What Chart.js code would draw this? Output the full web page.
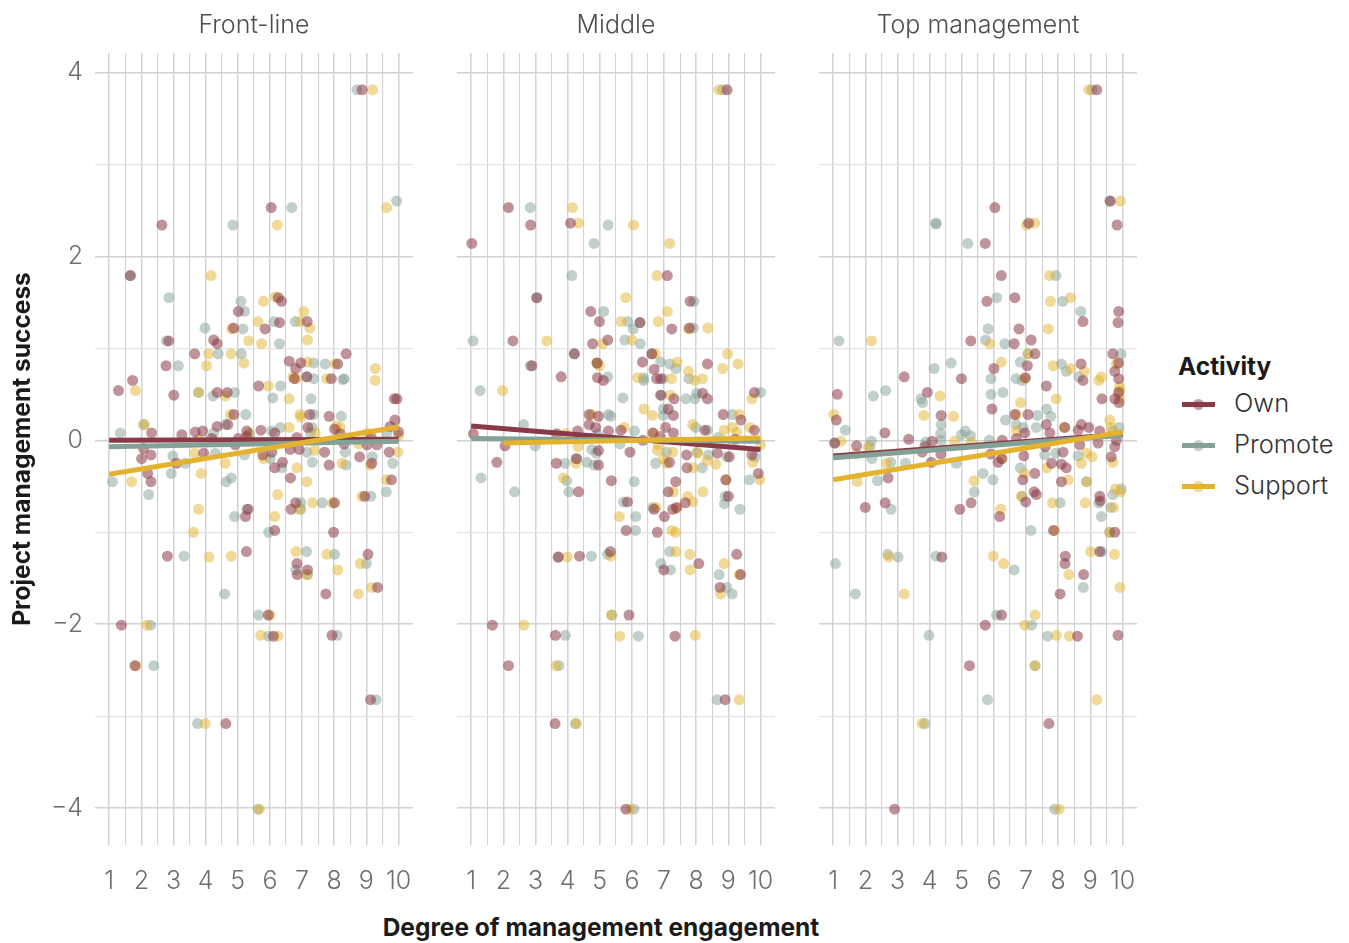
<!DOCTYPE html>
<html>
<head>
<meta charset="utf-8">
<title>Management engagement and project success</title>
<script src="https://cdn.jsdelivr.net/npm/chart.js@4"></script>
<style>
    html, body { margin: 0; padding: 0; background: #fff; }
    body { width: 1349px; height: 943px; position: relative; overflow: hidden; font-family: Inter, sans-serif; }
    canvas { position: absolute; top: 0; }
    .x-title { position: absolute; left: 301px; width: 600px; top: 912px; text-align: center; font-weight: 700; font-size: 24.5px; line-height: 30px; color: #1a1a1a; }
    .legend-title { position: absolute; left: 1178px; top: 350px; font-weight: 700; font-size: 24.5px; line-height: 32px; color: #1a1a1a; }
    .legend-item { position: absolute; left: 1182px; height: 32px; width: 167px; }
    .legend-item .bar { position: absolute; left: 0; top: 14px; width: 33px; height: 5px; }
    .legend-item .dot { position: absolute; left: 11px; top: 11px; width: 11px; height: 11px; border-radius: 50%; opacity: .5; }
    .legend-item span { position: absolute; left: 52px; top: -1px; font-weight: 300; font-size: 25.5px; line-height: 32px; color: #333; }
</style>
</head>
<body>
<canvas id="panelFront" width="425" height="900" style="left:0;width:425px;height:900px"></canvas>
<canvas id="panelMiddle" width="350" height="900" style="left:437px;width:350px;height:900px"></canvas>
<canvas id="panelTop" width="350" height="900" style="left:799px;width:350px;height:900px"></canvas>
<div class="x-title">Degree of management engagement</div>
<div class="legend-title">Activity</div>
<div id="legend"></div>
<script>
const panelTitles = ["Front-line", "Middle", "Top management"];
const activities = ["Own", "Promote", "Support"];
const activityColors = ["#8a3a45", "#84a198", "#e3b330"];

// each pair is [engagement, success]
const frontOwn = [[8.87,3.81],[6.04,2.53],[2.64,2.34],[1.66,1.79],[6.30,1.28],[5.02,1.40],[6.36,1.51],[6.26,1.55],[5.85,1.21],[7.16,1.29],[4.87,1.22],[4.25,1.09],[4.36,1.05],[2.85,1.08],[3.66,0.94],[2.77,0.81],[8.37,0.94],[6.60,0.86],[6.96,0.84],[8.11,0.83],[6.80,0.78],[7.15,0.69],[6.76,0.67],[7.91,0.67],[1.73,0.65],[1.29,0.54],[5.65,0.59],[3.01,0.49],[4.36,0.52],[4.67,0.52],[9.87,0.45],[9.95,0.45],[4.88,0.28],[7.24,0.28],[7.84,0.26],[9.89,0.22],[7.18,0.14],[8.01,0.12],[4.36,0.15],[4.69,0.17],[2.32,0.08],[3.26,0.06],[3.68,0.09],[3.91,0.10],[5.72,0.11],[5.28,0.10],[6.15,0.08],[4.19,0.02],[5.02,0.02],[6.84,0.03],[8.19,0.07],[9.15,0.03],[10.0,0.09],[9.74,0.15],
    [2.07,-0.09],[2.01,-0.20],[2.30,-0.16],[3.09,-0.25],[2.20,-0.36],[2.30,-0.45],[3.94,-0.14],[4.92,-0.05],[5.28,0.04],[5.78,-0.16],[6.06,-0.13],[6.15,-0.30],[6.39,-0.24],[6.63,-0.10],[6.91,-0.10],[6.64,-0.41],[7.70,-0.13],[7.84,-0.27],[8.31,-0.04],[8.79,-0.18],[9.02,-0.05],[9.33,-0.05],[9.17,-0.25],[9.71,-0.13],[9.78,-0.43],[8.95,-0.61],[6.80,-0.68],[6.66,-0.75],[8.01,-0.68],[5.32,-0.75],[5.24,-0.83],[6.15,-0.98],[7.98,-1.00],[2.81,-1.26],[5.27,-1.21],[6.84,-1.34],[7.17,-1.41],[6.85,-1.46],[9.05,-1.24],[9.35,-1.60],[7.74,-1.67],[1.38,-2.01],[5.95,-1.90],[6.11,-2.13],[7.93,-2.12],[1.80,-2.45],[9.13,-2.82],[4.63,-3.08]];
const frontPromote = [[8.71,3.81],[6.68,2.53],[4.85,2.34],[9.94,2.60],[1.66,1.79],[2.86,1.55],[5.10,1.51],[5.21,1.40],[6.13,1.29],[6.79,1.29],[3.98,1.22],[5.16,1.21],[2.78,1.08],[6.30,1.05],[4.39,0.94],[5.11,0.94],[3.15,0.81],[7.36,0.84],[7.72,0.83],[7.15,0.69],[7.36,0.67],[8.31,0.67],[8.27,0.66],[6.33,0.59],[3.78,0.52],[4.23,0.48],[4.90,0.52],[6.09,0.46],[7.28,0.45],[5.25,0.28],[7.36,0.28],[8.22,0.26],[2.07,0.17],[1.35,0.08],[4.61,0.17],[4.25,0.08],[5.37,0.07],[6.06,0.10],[6.33,0.14],[7.31,0.14],[7.26,0.08],[9.64,0.08],
    [2.98,-0.17],[3.37,-0.25],[2.93,-0.36],[1.10,-0.45],[2.23,-0.59],[4.30,-0.14],[4.80,-0.41],[4.64,-0.45],[5.21,-0.16],[6.01,-0.20],[6.37,-0.30],[7.15,-0.13],[7.32,-0.24],[8.34,-0.13],[8.36,-0.27],[9.19,-0.18],[9.82,-0.25],[9.14,-0.61],[9.62,-0.56],[7.63,-0.68],[6.96,-0.68],[6.96,-0.75],[5.28,-0.75],[4.90,-0.83],[5.96,-1.00],[3.33,-1.26],[7.14,-1.21],[8.01,-1.24],[9.0,-1.34],[6.81,-1.41],[7.17,-1.46],[4.59,-1.67],[2.29,-2.01],[5.65,-1.90],[5.96,-2.13],[8.09,-2.12],[2.39,-2.45],[9.30,-2.82],[3.75,-3.08],[5.63,-4.01]];
const frontSupport = [[9.19,3.81],[9.63,2.53],[6.23,2.34],[4.17,1.79],[5.80,1.51],[6.17,1.56],[7.05,1.40],[5.63,1.29],[6.94,1.29],[7.24,1.22],[4.81,1.21],[5.34,1.08],[5.74,1.05],[7.17,1.09],[4.09,0.94],[4.79,0.94],[4.03,0.81],[5.19,0.84],[7.17,0.85],[8.03,0.83],[9.28,0.78],[9.27,0.65],[6.72,0.69],[6.82,0.67],[7.77,0.67],[1.82,0.54],[5.95,0.59],[3.78,0.52],[4.61,0.48],[6.60,0.45],[4.77,0.28],[6.94,0.28],[6.96,0.25],[2.10,0.17],[6.60,0.14],[8.06,0.15],[8.19,0.14],[5.34,0.07],[3.78,0.01],[7.41,0.08],[9.02,0.08],[10.0,0.05],
    [1.70,-0.45],[3.66,-0.14],[3.86,-0.36],[4.61,-0.25],[5.80,-0.20],[6.84,-0.30],[7.38,-0.11],[7.15,-0.45],[6.24,-0.59],[8.24,-0.25],[9.12,-0.27],[8.76,-0.04],[9.98,-0.13],[9.62,-0.43],[8.86,-0.61],[7.33,-0.68],[7.95,-0.68],[6.92,-0.75],[3.78,-0.75],[6.15,-0.83],[3.62,-1.00],[4.11,-1.27],[4.80,-1.26],[6.81,-1.21],[7.77,-1.24],[8.81,-1.34],[8.11,-1.41],[7.15,-1.46],[9.17,-1.60],[8.75,-1.67],[2.17,-2.01],[6.0,-1.90],[5.71,-2.12],[6.25,-2.13],[1.84,-2.45],[3.99,-3.08],[5.67,-4.01]];

const middleOwn = [[8.96,3.81],[2.16,2.53],[2.85,2.34],[4.09,2.36],[1.02,2.14],[7.10,1.79],[3.04,1.55],[4.72,1.40],[7.81,1.51],[4.99,1.29],[6.25,1.28],[7.24,1.21],[7.79,1.22],[2.30,1.08],[4.78,1.05],[5.25,1.09],[4.21,0.94],[6.62,0.94],[4.92,0.84],[6.33,0.85],[8.35,0.83],[2.89,0.81],[6.69,0.77],[6.77,0.67],[6.90,0.67],[3.80,0.69],[4.93,0.68],[5.11,0.65],[6.91,0.49],[7.31,0.45],[8.20,0.51],[8.35,0.45],[9.81,0.52],[4.67,0.28],[4.96,0.26],[4.67,0.17],[4.87,0.14],[7.13,0.34],[7.29,0.27],[8.84,0.28],[9.39,0.22],[7.05,0.14],[1.07,0.07],[3.66,0.07],[4.31,0.10],[5.27,0.10],[5.66,0.11],[6.65,0.08],[6.88,0.04],[7.29,0.08],[8.27,0.11],[9.21,0.01],[9.81,0.11],[6.34,0.0],
    [2.05,-0.06],[1.80,-0.24],[3.65,-0.25],[4.28,-0.20],[4.96,-0.27],[4.96,-0.11],[5.94,-0.13],[5.36,-0.44],[4.34,-0.56],[5.86,-0.67],[7.17,-0.24],[7.70,-0.16],[7.71,-0.30],[8.66,-0.14],[9.03,-0.18],[9.73,-0.16],[9.93,-0.36],[7.36,-0.45],[7.13,-0.56],[8.92,-0.43],[6.69,-0.75],[7.27,-0.75],[7.39,-0.73],[7.66,-0.68],[7.01,-0.83],[9.0,-0.61],[5.82,-0.98],[6.79,-1.00],[5.33,-1.21],[3.71,-1.27],[4.37,-1.26],[8.08,-1.34],[6.99,-1.41],[9.26,-1.24],[9.38,-1.46],[8.74,-1.60],[5.91,-1.90],[1.66,-2.01],[3.62,-2.12],[7.34,-2.13],[2.16,-2.45],[8.90,-2.82],[3.61,-3.08],[5.81,-4.01]];
const middlePromote = [[8.82,3.81],[2.84,2.53],[5.26,2.34],[4.82,2.14],[4.13,1.79],[3.04,1.55],[7.93,1.51],[5.12,1.40],[5.87,1.29],[6.25,1.28],[6.04,1.21],[7.91,1.22],[1.06,1.08],[5.78,1.09],[6.26,1.05],[4.21,0.94],[6.62,0.94],[2.84,0.81],[4.91,0.84],[6.89,0.85],[7.18,0.83],[7.37,0.78],[6.36,0.68],[6.37,0.65],[5.25,0.69],[6.98,0.67],[7.77,0.67],[1.28,0.54],[5.72,0.46],[6.88,0.49],[7.68,0.45],[7.96,0.45],[8.01,0.51],[10.0,0.52],[2.63,0.17],[5.27,0.28],[5.34,0.26],[6.98,0.34],[6.98,0.27],[9.13,0.28],[6.08,0.10],[7.98,0.14],[8.35,0.11],[8.69,0.03],[4.93,0.07],
    [2.99,-0.06],[3.92,-0.25],[4.26,-0.20],[4.60,-0.24],[4.75,-0.10],[4.89,-0.14],[4.82,-0.27],[5.63,-0.04],[1.31,-0.41],[2.35,-0.56],[3.97,-0.44],[4.04,-0.56],[6.07,-0.45],[6.74,-0.25],[7.08,-0.13],[8.19,-0.30],[8.02,-0.13],[8.38,-0.16],[8.95,-0.18],[9.83,-0.18],[9.65,-0.43],[5.74,-0.67],[6.65,-0.73],[8.90,-0.61],[8.88,-0.69],[9.36,-0.75],[6.12,-0.83],[6.11,-0.98],[3.71,-1.27],[4.74,-1.26],[5.24,-1.24],[7.18,-1.21],[6.90,-1.34],[7.20,-1.41],[8.71,-1.46],[8.95,-1.60],[9.12,-1.67],[5.38,-1.90],[3.93,-2.12],[6.20,-2.13],[3.73,-2.45],[8.65,-2.82],[4.24,-3.08],[6.06,-4.01]];
const middleSupport = [[8.70,3.81],[4.15,2.53],[4.34,2.36],[6.05,2.34],[7.17,2.14],[6.78,1.79],[5.81,1.55],[7.10,1.40],[5.66,1.29],[6.82,1.29],[7.76,1.21],[8.36,1.22],[3.35,1.08],[5.09,1.05],[6.0,1.09],[6.73,0.94],[8.98,0.94],[4.91,0.84],[4.99,0.81],[7.41,0.85],[9.30,0.83],[8.82,0.78],[7.76,0.75],[7.96,0.65],[8.19,0.67],[6.18,0.68],[7.23,0.67],[1.98,0.54],[7.19,0.49],[9.73,0.45],[6.38,0.34],[6.64,0.27],[4.75,0.28],[9.34,0.28],[7.89,0.17],[9.13,0.14],[8.87,0.11],[9.26,0.09],[9.67,0.14],[5.76,0.14],[3.94,0.07],[6.67,0.08],
    [4.33,-0.07],[4.26,-0.25],[3.87,-0.41],[6.82,-0.05],[6.79,-0.11],[7.27,-0.13],[6.98,-0.20],[7.08,-0.25],[7.91,-0.30],[8.05,-0.14],[8.33,-0.22],[8.61,-0.26],[9.76,-0.24],[9.98,-0.43],[10.0,-0.05],[7.29,-0.56],[7.74,-0.61],[7.89,-0.67],[8.21,-0.56],[8.93,-0.43],[6.75,-0.73],[7.39,-0.74],[5.61,-0.83],[7.24,-0.98],[7.36,-1.00],[3.99,-1.27],[5.35,-1.26],[7.37,-1.21],[7.80,-1.24],[8.87,-1.34],[7.81,-1.41],[9.34,-1.46],[8.76,-1.67],[2.64,-2.01],[5.36,-1.90],[5.62,-2.13],[7.97,-2.12],[3.64,-2.45],[4.28,-3.08],[9.34,-2.82],[5.95,-4.01]];

const topOwn = [[9.20,3.81],[9.62,2.60],[6.03,2.53],[7.08,2.36],[9.83,2.34],[5.73,2.14],[6.23,1.79],[6.65,1.55],[5.78,1.51],[9.88,1.40],[8.77,1.29],[9.86,1.28],[6.78,1.21],[5.28,1.08],[7.16,1.09],[6.63,1.05],[7.28,0.94],[9.70,0.94],[7.04,0.81],[6.0,0.78],[8.71,0.83],[9.88,0.84],[9.76,0.75],[3.21,0.69],[4.99,0.67],[6.98,0.68],[8.77,0.65],[9.88,0.67],[7.63,0.59],[1.13,0.50],[3.93,0.52],[9.36,0.45],[9.76,0.45],[9.89,0.41],[9.88,0.52],[4.36,0.27],[5.94,0.34],[6.65,0.28],[7.06,0.28],[1.10,0.22],[7.63,0.17],[8.20,0.14],[8.72,0.17],[8.95,0.14],[2.61,0.08],[3.35,0.01],[7.74,0.08],[8.62,0.11],[9.29,0.10],[6.96,0.08],
    [1.05,-0.03],[1.73,-0.06],[4.08,-0.01],[3.85,-0.07],[3.77,-0.13],[4.35,-0.15],[4.05,-0.24],[6.26,0.0],[6.70,0.02],[5.90,-0.15],[6.13,-0.24],[6.25,-0.20],[6.93,-0.17],[7.27,-0.36],[6.90,-0.43],[7.60,-0.07],[8.15,-0.13],[7.79,-0.25],[8.10,-0.26],[8.25,-0.30],[8.10,-0.45],[8.67,-0.05],[9.24,-0.03],[9.65,-0.18],[9.76,-0.07],[9.81,0.0],[2.71,-0.41],[7.25,-0.56],[7.32,-0.59],[6.99,-0.67],[9.29,-0.61],[9.31,-0.66],[2.62,-0.68],[2.0,-0.73],[4.94,-0.75],[5.29,-0.68],[6.18,-0.83],[7.85,-0.98],[9.76,-1.00],[4.38,-1.27],[8.22,-1.26],[8.21,-1.34],[8.79,-1.46],[9.29,-1.21],[8.06,-1.67],[6.24,-1.90],[5.73,-2.01],[8.60,-2.13],[9.86,-2.12],[5.24,-2.45],[7.71,-3.08],[2.91,-4.01]];
const topPromote = [[9.05,3.81],[9.60,2.60],[4.20,2.35],[4.20,2.36],[5.19,2.14],[7.93,1.79],[6.09,1.55],[8.14,1.51],[8.70,1.40],[5.82,1.21],[5.74,1.09],[6.34,1.05],[1.18,1.08],[9.96,0.94],[7.06,0.94],[4.14,0.78],[4.67,0.84],[6.82,0.85],[8.10,0.83],[8.25,0.75],[8.64,0.69],[5.91,0.67],[6.69,0.67],[6.88,0.65],[2.63,0.54],[2.25,0.48],[3.73,0.45],[3.78,0.41],[5.91,0.50],[6.28,0.52],[6.36,0.22],[4.36,0.17],[4.34,0.07],[4.35,0.0],[4.99,0.06],[5.11,0.10],[5.27,0.05],[1.38,0.11],[6.69,0.17],[6.91,0.14],[7.35,0.27],[7.64,0.34],[7.77,0.26],[7.32,0.14],[9.89,0.14],[9.70,0.10],[3.88,-0.02],[5.86,0.0],[2.19,-0.01],[1.05,-0.03],
    [2.21,-0.20],[2.14,-0.07],[2.79,-0.24],[3.25,-0.25],[4.83,-0.25],[5.66,-0.36],[5.97,-0.43],[5.39,-0.56],[2.38,-0.44],[6.82,-0.30],[7.58,-0.16],[7.92,-0.14],[8.62,-0.17],[8.88,-0.45],[9.70,-0.59],[9.96,-0.53],[6.88,-0.61],[9.26,-0.68],[8.06,-0.68],[9.63,-0.73],[2.80,-0.75],[9.34,-0.83],[7.15,-0.98],[9.60,-1.00],[1.07,-1.34],[2.70,-1.24],[3.02,-1.27],[4.20,-1.26],[6.63,-1.41],[9.36,-1.21],[8.78,-1.60],[1.69,-1.67],[6.08,-1.90],[7.17,-2.01],[3.98,-2.12],[7.67,-2.13],[7.28,-2.45],[5.80,-2.82],[3.85,-3.08],[7.89,-4.01]];
const topSupport = [[8.95,3.81],[9.93,2.60],[7.01,2.34],[7.27,2.36],[7.73,1.79],[8.38,1.55],[7.76,1.51],[7.69,1.21],[2.19,1.08],[5.87,1.05],[7.06,0.94],[6.23,0.85],[7.84,0.81],[8.39,0.78],[8.82,0.75],[9.26,0.65],[9.34,0.69],[9.81,0.83],[6.96,0.67],[9.91,0.58],[9.91,0.54],[9.91,0.45],[4.32,0.48],[6.83,0.41],[7.94,0.45],[3.82,0.27],[4.74,0.26],[1.02,0.28],[6.70,0.28],[9.60,0.22],[8.20,0.14],[9.65,0.14],[6.70,0.10],[1.24,-0.01],[4.78,-0.01],[5.30,-0.02],
    [1.75,-0.45],[2.66,-0.25],[2.09,-0.07],[1.73,-0.15],[5.38,-0.44],[6.23,-0.20],[6.94,-0.36],[7.65,-0.30],[8.31,-0.43],[8.72,-0.25],[9.05,-0.18],[8.88,-0.14],[9.70,-0.24],[8.88,-0.45],[9.78,-0.53],[9.94,-0.56],[6.85,-0.61],[7.82,-0.68],[8.84,-0.68],[9.72,-0.73],[6.21,-0.75],[9.60,-1.00],[7.89,-0.98],[2.73,-1.27],[5.98,-1.26],[6.30,-1.34],[9.01,-1.21],[9.75,-1.24],[8.33,-1.46],[9.92,-1.60],[3.21,-1.67],[7.28,-1.90],[6.96,-2.01],[7.94,-2.12],[8.35,-2.13],[7.28,-2.45],[9.20,-2.82],[3.77,-3.08],[8.03,-4.01]];

// fitted lines, start and end
const frontTrends = [[[1,0.0],[10,0.01]], [[1,-0.07],[10,-0.01]], [[1,-0.37],[10,0.145]]];
const middleTrends = [[[1,0.155],[10,-0.10]], [[1,0.02],[10,-0.01]], [[2,-0.03],[10,0.025]]];
const topTrends = [[[1,-0.17],[10,0.065]], [[1,-0.19],[10,0.055]], [[1,-0.43],[10,0.09]]];

const xTicks = [1, 2, 3, 4, 5, 6, 7, 8, 9, 10];
const yTicks = [-4, -2, 0, 2, 4];

const gridColor = "#d2d2d2";
const fontFamily = "Inter, sans-serif";

function withAlpha(hex, alpha) {
    const r = parseInt(hex.slice(1, 3), 16);
    const g = parseInt(hex.slice(3, 5), 16);
    const b = parseInt(hex.slice(5, 7), 16);
    return `rgba(${r},${g},${b},${alpha})`;
}

function toPoints(pairs) {
    return pairs.map(p => ({ x: p[0], y: p[1] }));
}

function buildPanel(canvasId, title, seriesList, trends, showY, yWidth) {

    const datasets = [];

    // own is drawn last among the dots, lines above every dot
    seriesList.forEach((series, i) => {
        datasets.push({
            label: activities[i],
            data: toPoints(series),
            pointRadius: 5.5,
            pointHoverRadius: 5.5,
            pointBorderWidth: 0,
            pointBackgroundColor: withAlpha(activityColors[i], i === 0 ? 0.55 : 0.5),
            showLine: false,
            order: 10 - (i === 0 ? 2 : i === 1 ? 0 : 1)
        });
    });

    trends.forEach((line, i) => {
        datasets.push({
            label: activities[i] + " trend",
            data: toPoints(line),
            showLine: true,
            borderColor: activityColors[i],
            borderWidth: 5,
            pointRadius: 0,
            fill: false,
            order: 3 - i
        });
    });

    new Chart(document.getElementById(canvasId), {
        type: "scatter",
        data: { datasets: datasets },
        options: {
            responsive: false,
            animation: false,
            layout: { padding: { right: 12 } },
            plugins: {
                legend: { display: false },
                tooltip: { enabled: false },
                title: {
                    display: true,
                    fullSize: false,
                    text: title,
                    color: "#4d4d4d",
                    font: { family: fontFamily, size: 25, weight: 300, lineHeight: 1.2 },
                    padding: { top: 10, bottom: 13 }
                }
            },
            scales: {
                x: {
                    type: "linear",
                    min: 0.56,
                    max: 10.45,
                    border: { display: false },
                    grid: {
                        drawTicks: false,
                        color: gridColor,
                        lineWidth: ctx => Number.isInteger(ctx.tick.value) ? 1.5 : 1.1
                    },
                    ticks: {
                        stepSize: 0.5,
                        includeBounds: false,
                        autoSkip: false,
                        maxRotation: 0,
                        padding: 21,
                        color: "#6f6f6f",
                        font: { family: fontFamily, size: 25, weight: 300 },
                        callback: value => xTicks.includes(value) ? String(value) : ""
                    },
                    afterFit: scale => {
                        scale.height = 55;
                        scale.paddingLeft = 0;
                        scale.paddingRight = 0;
                    }
                },
                y: {
                    type: "linear",
                    min: -4.4,
                    max: 4.21,
                    border: { display: false },
                    title: {
                        display: showY,
                        text: "Project management success",
                        color: "#1a1a1a",
                        font: { family: fontFamily, size: 24.5, weight: 700 },
                        padding: { top: 8, bottom: 0 }
                    },
                    grid: {
                        drawTicks: false,
                        color: ctx => yTicks.includes(ctx.tick.value) ? gridColor : "#e4e4e4",
                        lineWidth: ctx => yTicks.includes(ctx.tick.value) ? 1.5 : 1.2
                    },
                    ticks: {
                        display: showY,
                        stepSize: 1,
                        includeBounds: false,
                        autoSkip: false,
                        padding: 12,
                        color: "#6f6f6f",
                        font: { family: fontFamily, size: 25, weight: 300 },
                        callback: value => yTicks.includes(value) ? String(value).replace("-", "\u2212") : ""
                    },
                    afterFit: scale => {
                        scale.width = yWidth;
                        scale.paddingTop = 0;
                        scale.paddingBottom = 0;
                    }
                }
            }
        }
    });
}

buildPanel("panelFront", panelTitles[0], [frontOwn, frontPromote, frontSupport], frontTrends, true, 95);
buildPanel("panelMiddle", panelTitles[1], [middleOwn, middlePromote, middleSupport], middleTrends, false, 20);
buildPanel("panelTop", panelTitles[2], [topOwn, topPromote, topSupport], topTrends, false, 20);

// ---------------- LEGEND ----------------

const legendNode = document.getElementById("legend");
const legendTops = [388, 429, 470];

activities.forEach((name, i) => {
    const item = document.createElement("div");
    item.className = "legend-item";
    item.style.top = legendTops[i] + "px";
    item.innerHTML = `<div class="bar" style="background:${activityColors[i]}"></div>` +
        `<div class="dot" style="background:${activityColors[i]}"></div><span>${name}</span>`;
    legendNode.appendChild(item);
});
</script>
</body>
</html>
